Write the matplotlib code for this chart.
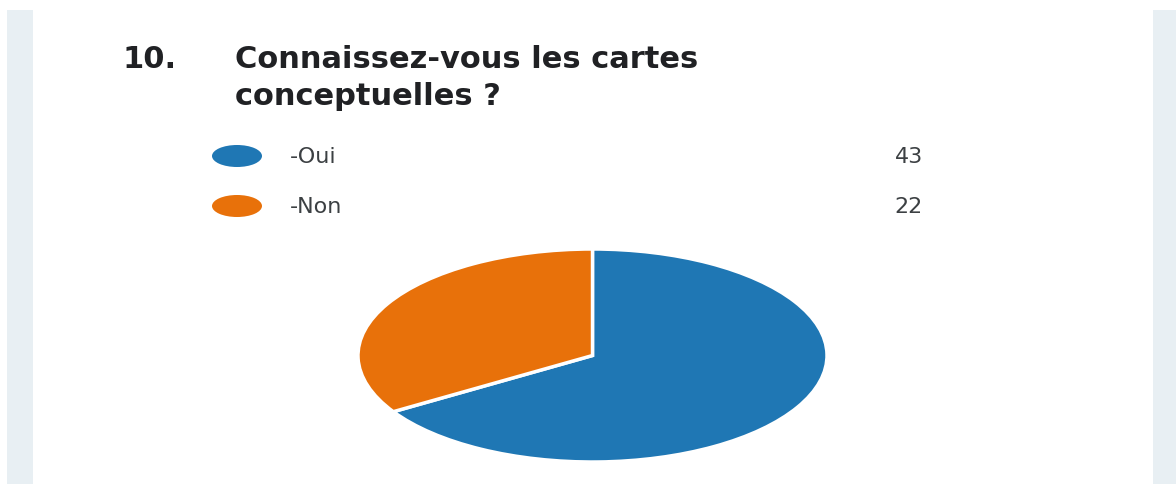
import matplotlib
matplotlib.use("Agg")
import matplotlib.pyplot as plt
from matplotlib.patches import Rectangle, Ellipse

# données
question_num = "10."
title_lines = ["Connaissez-vous les cartes", "conceptuelles ?"]
labels = ["-Oui", "-Non"]
counts = [43, 22]
colors = ["#1f77b4", "#e8710a"]

W, H = 1176, 485
fig = plt.figure(figsize=(W / 100, H / 100), dpi=100)
fig.patch.set_facecolor("white")

# fond en pixels
bg = fig.add_axes([0, 0, 1, 1])
bg.set_xlim(0, W)
bg.set_ylim(H, 0)
bg.axis("off")
strip = "#e8eff3"
bg.add_patch(Rectangle((7, 11), 26, H - 11, color=strip, lw=0))
bg.add_patch(Rectangle((1153, 11), 23, H - 11, color=strip, lw=0))

# titre
title_kw = dict(family="DejaVu Sans", weight="bold", fontsize=22, color="#202124", va="baseline")
bg.text(123, 68, question_num, **title_kw)
for i, line in enumerate(title_lines):
    bg.text(235, 68 + 37 * i, line, **title_kw)

# légende
for i, (lab, n, c) in enumerate(zip(labels, counts, colors)):
    y = 157 + 50 * i
    bg.add_patch(Ellipse((237, y), 50, 22, color=c, lw=0))
    bg.text(290, y, lab, fontsize=16, color="#3c4043", va="center", family="DejaVu Sans")
    bg.text(923, y, str(n), fontsize=16, color="#3c4043", va="center", ha="right", family="DejaVu Sans")

# camembert
ax = fig.add_axes([358 / W, 1 - 463 / H, 469 / W, 213 / H])
ax.pie(counts, colors=colors, startangle=90, counterclock=False,
       wedgeprops=dict(edgecolor="white", linewidth=2.5))
ax.set_aspect("auto")
ax.set_xlim(-1, 1)
ax.set_ylim(-1, 1)
ax.axis("off")

fig.savefig("out.png", dpi=100)
